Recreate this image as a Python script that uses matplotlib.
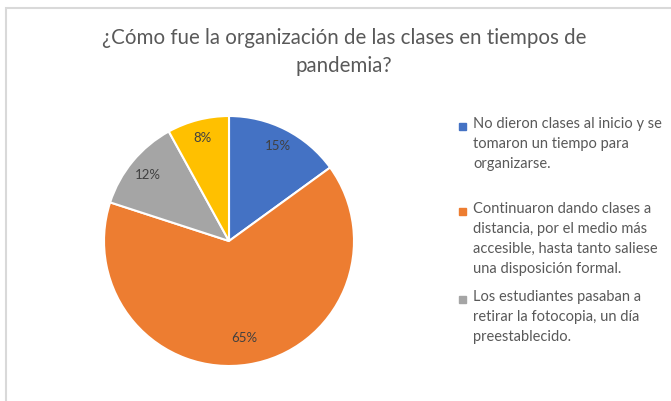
import matplotlib.pyplot as plt
from matplotlib.patches import Rectangle
import numpy as np

title = "¿Cómo fue la organización de las clases en tiempos de\npandemia?"
labels = [
    "No dieron clases al inicio y se\ntomaron un tiempo para\norganizarse.",
    "Continuaron dando clases a\ndistancia, por el medio más\naccesible, hasta tanto saliese\nuna disposición formal.",
    "Los estudiantes pasaban a\nretirar la fotocopia, un día\npreestablecido.",
    "Otro",
]
values = [15, 65, 12, 8]
colors = ["#4472c4", "#ed7d31", "#a5a5a5", "#ffc000"]

plt.rcParams['font.family'] = ['Lato', 'DejaVu Sans']
W, H = 671, 402
fig = plt.figure(figsize=(W / 100, H / 100), dpi=100)

# chart border (cut off at right and bottom)
fig.patches.append(Rectangle((5.5 / W, -0.1), 1.2, 1 - 8.5 / H + 0.1,
                             transform=fig.transFigure, fill=False,
                             edgecolor="#d9d9d9", lw=1.5))

fig.text(344 / W, 1 - 52 / H, title, ha="center", va="center",
         fontsize=14.8, color="#595959", linespacing=1.45)

cx, cy, r = 229, 242, 125
ax = fig.add_axes([(cx - r) / W, 1 - (cy + r) / H, 2 * r / W, 2 * r / H])
wedges, texts = ax.pie(values, colors=colors, startangle=90, counterclock=False,
                       wedgeprops=dict(edgecolor="white", linewidth=1.5))
ax.set_xlim(-1, 1)
ax.set_ylim(-1, 1)
ax.set_aspect("equal")

label_r = [0.86, 0.78, 0.84, 0.86]
for w, v, lr in zip(wedges, values, label_r):
    ang = np.deg2rad((w.theta1 + w.theta2) / 2)
    ax.text(lr * np.cos(ang), lr * np.sin(ang), f"{v}%", ha="center", va="center",
            fontsize=9.5, color="#404040")

# legend (only three entries are visible in the original)
ys = [127, 212, 300]
for lab, col, y in zip(labels[:3], colors[:3], ys):
    fig.patches.append(Rectangle((459 / W, 1 - (y + 3.5) / H), 7 / W, 7 / H,
                                 transform=fig.transFigure, color=col))
    fig.text(473 / W, 1 - (y - 10) / H, lab, ha="left", va="top",
             fontsize=10.5, color="#595959", linespacing=1.55)

fig.savefig("out.png", dpi=100)
